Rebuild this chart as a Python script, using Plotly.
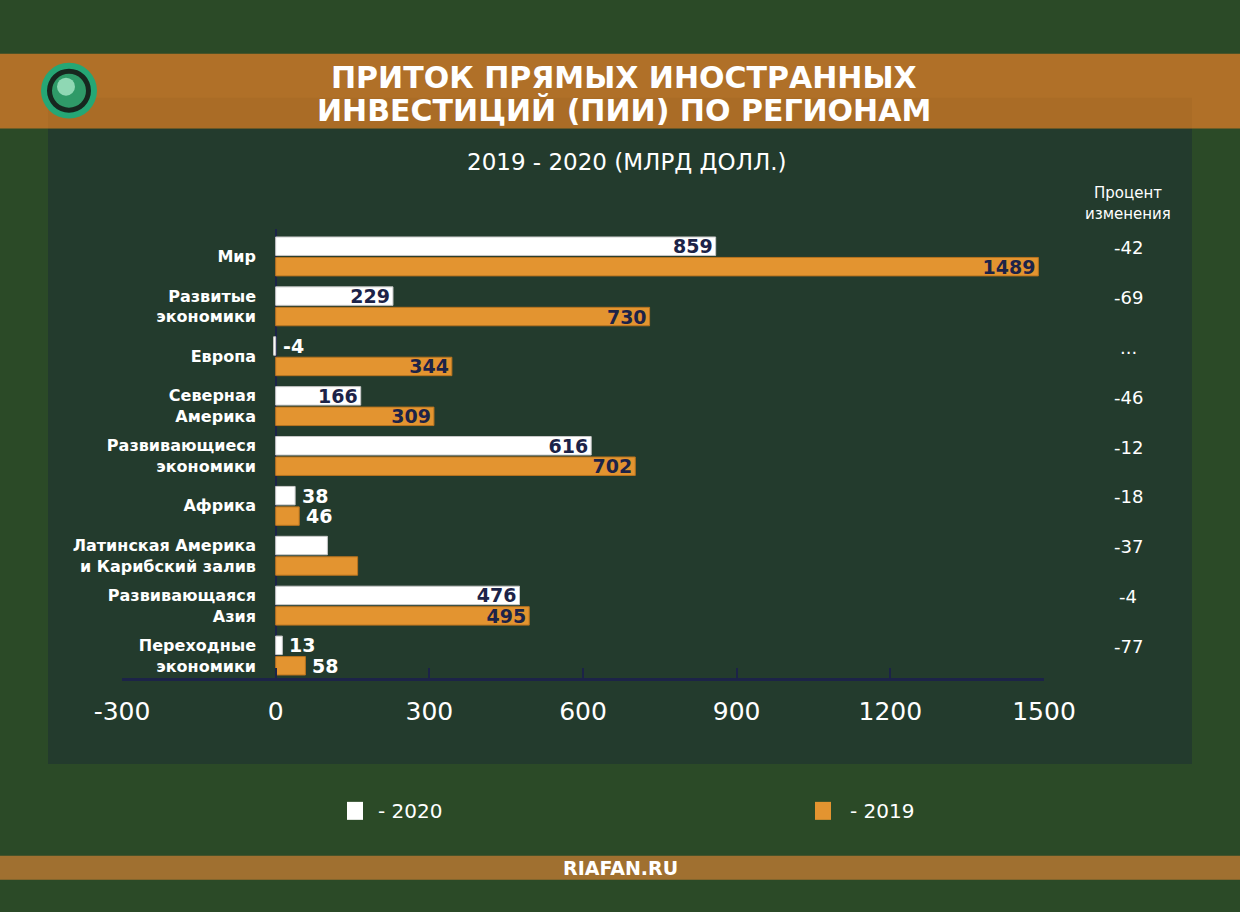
import plotly.graph_objects as go

# ---------------- data ----------------
categories = [
    "Мир",
    "Развитые<br>экономики",
    "Европа",
    "Северная<br>Америка",
    "Развивающиеся<br>экономики",
    "Африка",
    "Латинская Америка<br>и Карибский залив",
    "Развивающаяся<br>Азия",
    "Переходные<br>экономики",
]
values_2020 = [859, 229, -4, 166, 616, 38, 101, 476, 13]
values_2019 = [1489, 730, 344, 309, 702, 46, 160, 495, 58]
label_mode_2020 = ["in", "in", "out", "in", "in", "out", "none", "in", "out"]
label_mode_2019 = ["in", "in", "in", "in", "in", "out", "none", "in", "out"]
pct_change = ["-42", "-69", "...", "-46", "-12", "-18", "-37", "-4", "-77"]
x_ticks = [-300, 0, 300, 600, 900, 1200, 1500]

title_lines = ["ПРИТОК ПРЯМЫХ ИНОСТРАННЫХ", "ИНВЕСТИЦИЙ (ПИИ) ПО РЕГИОНАМ"]
subtitle = "2019 - 2020 (МЛРД ДОЛЛ.)"
pct_header = ["Процент", "изменения"]
legend_labels = ["- 2020", "- 2019"]
source = "RIAFAN.RU"

# ---------------- layout geometry ----------------
W, H = 1240, 912
ML, MR, MT, MB = 122, 196, 228.5, 234
PW, PH = W - ML - MR, H - MT - MB


def xp(px):
    return (px - ML) / PW


def yp(py):
    return 1 - (py - MT) / PH


NAVY = "#1c2348"
WHITE = "#ffffff"
ORANGE = "#e39430"
FONT = "DejaVu Sans"

fig = go.Figure()

fig.add_trace(go.Bar(
    name="2020", orientation="h", y=categories, x=values_2020,
    width=0.37, offset=-0.39,
    marker=dict(color=WHITE, line=dict(color="#c8c8c8", width=1)),
    text=[str(v) if m == "in" else "" for v, m in zip(values_2020, label_mode_2020)],
    textposition="inside", insidetextanchor="end", constraintext="none",
    insidetextfont=dict(color=NAVY, size=19, family=FONT, weight="bold"),
    hoverinfo="skip",
))
fig.add_trace(go.Bar(
    name="2019", orientation="h", y=categories, x=values_2019,
    width=0.37, offset=0.02,
    marker=dict(color=ORANGE, line=dict(color="#b8731f", width=1)),
    text=[str(v) if m == "in" else "" for v, m in zip(values_2019, label_mode_2019)],
    textposition="inside", insidetextanchor="end", constraintext="none",
    insidetextfont=dict(color=NAVY, size=19, family=FONT, weight="bold"),
    hoverinfo="skip",
))


def text_ann(x, y, text, size, xref="paper", yref="paper", xanchor="center", bold=False, **kw):
    f = dict(color=WHITE, size=size, family=FONT)
    if bold:
        f["weight"] = "bold"
    d = dict(x=x, y=y, xref=xref, yref=yref, text=text, showarrow=False,
             xanchor=xanchor, yanchor="middle", font=f)
    d.update(kw)
    return d


annotations = []
# outside labels for small bars
for i, (v, m) in enumerate(zip(values_2020, label_mode_2020)):
    if m == "out":
        annotations.append(text_ann(max(v, 0), i - 0.205, str(v), 19, xref="x", yref="y",
                                    xanchor="left", bold=True, xshift=5))
for i, (v, m) in enumerate(zip(values_2019, label_mode_2019)):
    if m == "out":
        annotations.append(text_ann(max(v, 0), i + 0.205, str(v), 19, xref="x", yref="y",
                                    xanchor="left", bold=True, xshift=5))
# percent change column
for i, p in enumerate(pct_change):
    annotations.append(text_ann(xp(1128), i - 0.18, p, 18, yref="y"))
annotations.append(text_ann(xp(1128), yp(192), pct_header[0], 15))
annotations.append(text_ann(xp(1128), yp(213), pct_header[1], 15))
# title, subtitle
annotations.append(text_ann(xp(624), yp(77), title_lines[0], 30, bold=True))
annotations.append(text_ann(xp(624), yp(110), title_lines[1], 30, bold=True))
annotations.append(text_ann(xp(627), yp(161), subtitle, 23))
# legend
annotations.append(text_ann(xp(376), yp(811), legend_labels[0], 20, xanchor="left"))
annotations.append(text_ann(xp(848), yp(811), legend_labels[1], 20, xanchor="left"))
# source
annotations.append(text_ann(xp(620), yp(868), source, 19, bold=True))


def rect(x0, y0, x1, y1, color, layer="below", line=None):
    return dict(type="rect", xref="paper", yref="paper", x0=xp(x0), x1=xp(x1), y0=yp(y0), y1=yp(y1),
                fillcolor=color, line=line or dict(width=0), layer=layer)


def circle(cx, cy, r, color):
    return dict(type="circle", xref="paper", yref="paper", x0=xp(cx - r), x1=xp(cx + r),
                y0=yp(cy + r), y1=yp(cy - r), fillcolor=color, line=dict(width=0), layer="above")


shapes = [
    rect(48, 128, 1192, 764, "#233b2d"),
    rect(0, 53, W, 128, "#b07028"),
    rect(48, 97, 1192, 128, "rgba(0,0,0,0.03)"),
    rect(0, 856, W, 880, "#a07030"),
    # legend swatches
    rect(347, 802, 363, 820, WHITE, layer="above"),
    rect(815, 802, 831, 820, ORANGE, layer="above"),
    # logo
    circle(69, 90, 28, "#25a775"),
    circle(69, 90, 22, "#17271f"),
    circle(69, 90, 17, "#2f9a68"),
    circle(66, 86, 9, "#8fd8b4"),
]

fig.update_layout(
    width=W, height=H,
    margin=dict(l=ML, r=MR, t=MT, b=MB, pad=0),
    paper_bgcolor="#2b4a27",
    plot_bgcolor="rgba(0,0,0,0)",
    barmode="overlay",
    showlegend=False,
    shapes=shapes,
    annotations=annotations,
    font=dict(family=FONT, color=WHITE),
    xaxis=dict(
        range=[-300, 1500], tickvals=x_ticks, ticktext=[str(t) for t in x_ticks],
        showgrid=False, showline=True, linecolor=NAVY, linewidth=3,
        ticks="inside", ticklen=10, tickwidth=2, tickcolor=NAVY,
        zeroline=True, zerolinecolor=NAVY, zerolinewidth=2,
        tickfont=dict(color=WHITE, size=25, family=FONT),
        ticklabelstandoff=9, fixedrange=True,
    ),
    yaxis=dict(
        type="category", categoryorder="array", categoryarray=categories,
        range=[8.45, -0.55], anchor="free", position=xp(256),
        showgrid=False, showline=False, zeroline=False, ticks="",
        tickfont=dict(color=WHITE, size=16, family=FONT, weight="bold"),
        fixedrange=True,
    ),
)

fig.write_html("out.html")
